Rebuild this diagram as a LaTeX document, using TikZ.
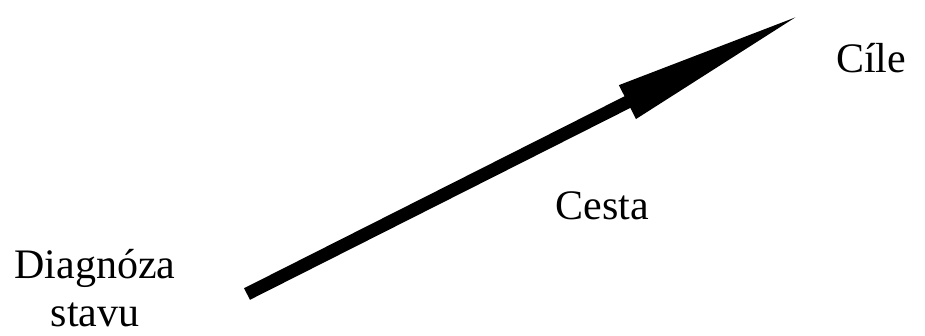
\documentclass[tikz,border=0pt]{standalone}
\usepackage{fontspec}
\setmainfont{Liberation Serif}
\usetikzlibrary{arrows.meta}

\begin{document}
\begin{tikzpicture}[x=1pt,y=-1pt,font=\fontsize{42}{48}\selectfont]
\tikzstyle{lbl}=[inner sep=0pt,anchor=base,align=center]
\useasboundingbox (0,0) rectangle (925,335);
\coordinate (start) at (247,294);
\coordinate (goal) at (806,12);
\draw[line width=13pt,-{Triangle[length=200pt,width=34pt]}] (start) -- (goal);
\node[lbl] (diag) at (95,326) {Diagnóza\\stavu};
\node[lbl] (cesta) at (602,219) {Cesta};
\node[lbl] (cile) at (871,72) {Cíle};
\end{tikzpicture}
\end{document}
